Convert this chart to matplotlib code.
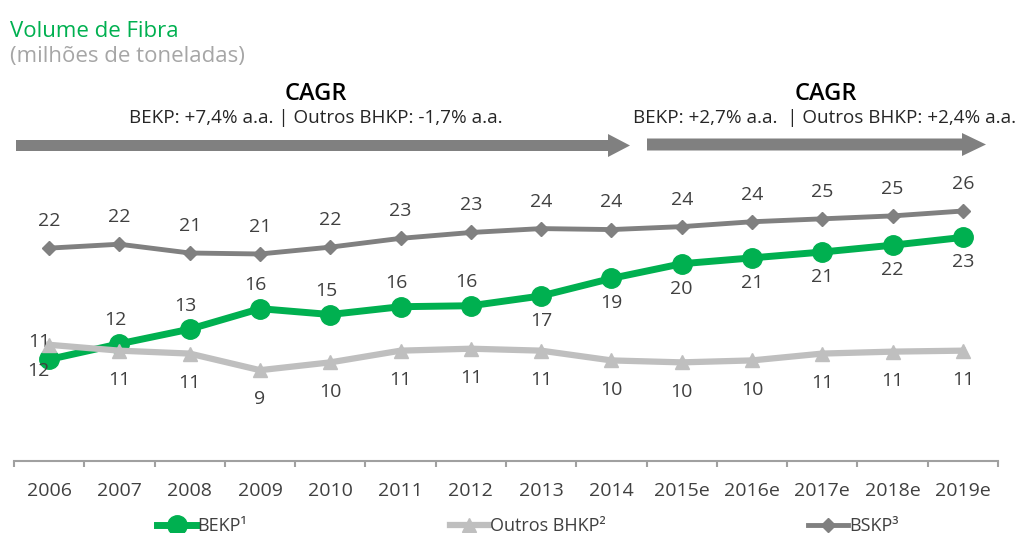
import matplotlib
matplotlib.use("Agg")
import matplotlib.pyplot as plt
from matplotlib.lines import Line2D
from matplotlib.patches import FancyArrow

plt.rcParams['font.family'] = ['Open Sans', 'DejaVu Sans']

# data
years = ['2006', '2007', '2008', '2009', '2010', '2011', '2012', '2013',
         '2014', '2015e', '2016e', '2017e', '2018e', '2019e']
bekp = [10.4, 12.0, 13.5, 15.6, 15.0, 15.8, 15.9, 16.9, 18.7, 20.2, 20.8, 21.4, 22.1, 22.9]
outros = [11.9, 11.3, 11.0, 9.3, 10.1, 11.3, 11.5, 11.3, 10.3, 10.1, 10.3, 11.0, 11.2, 11.3]
bskp = [21.8, 22.2, 21.3, 21.2, 21.9, 22.8, 23.4, 23.8, 23.7, 24.0, 24.5, 24.8, 25.1, 25.6]
# labels as printed on the chart
bekp_labels = [12, 12, 13, 16, 15, 16, 16, 17, 19, 20, 21, 21, 22, 23]
outros_labels = [11, 11, 11, 9, 10, 11, 11, 11, 10, 10, 10, 11, 11, 11]
bskp_labels = [22, 22, 21, 21, 22, 23, 23, 24, 24, 24, 24, 25, 25, 26]

GREEN = '#00B050'
LIGHT = '#BFBFBF'
DARK = '#808080'
TXT = '#404040'

W, H = 1020, 533
fig = plt.figure(figsize=(W / 100, H / 100), dpi=100)

# overlay in pixel coords for titles and arrows
ov = fig.add_axes([0, 0, 1, 1])
ov.set_xlim(0, W)
ov.set_ylim(H, 0)
ov.axis('off')

ax = fig.add_axes([14 / W, (H - 461) / H, 984 / W, 291 / H])
x = list(range(len(years)))

ax.plot(x, bekp, color=GREEN, lw=5, marker='o', ms=14, zorder=3)
ax.plot(x, outros, color=LIGHT, lw=4.5, marker='^', ms=10, zorder=4)
ax.plot(x, bskp, color=DARK, lw=3.5, marker='D', ms=7, zorder=5)

# data labels
for i in x:
    ax.annotate(str(bskp_labels[i]), (i, bskp[i]), xytext=(0, 19.5), textcoords='offset points',
                ha='center', va='center', fontsize=14, color=TXT)
    if i == 0:
        off = (-8, -8)
    elif i <= 6:
        off = (-3, 17)
    else:
        off = (0, -18)
    ax.annotate(str(bekp_labels[i]), (i, bekp[i]), xytext=off, textcoords='offset points',
                ha='center', va='center', fontsize=14, color=TXT)
    off = (-7, 2) if i == 0 else (0, -21)
    ax.annotate(str(outros_labels[i]), (i, outros[i]), xytext=off, textcoords='offset points',
                ha='center', va='center', fontsize=14, color=TXT)

ax.set_xlim(-0.5, len(years) - 0.5)
ax.set_ylim(0, 29.8)
for s in ['top', 'right', 'left']:
    ax.spines[s].set_visible(False)
ax.spines['bottom'].set_color('#A0A0A0')
ax.spines['bottom'].set_linewidth(1.5)
ax.set_yticks([])
ax.set_xticks(x)
ax.set_xticklabels(years, fontsize=14, color=TXT)
ax.set_xticks([i - 0.5 for i in range(len(years) + 1)], minor=True)
ax.tick_params(axis='x', which='major', length=0, pad=15)
ax.tick_params(axis='x', which='minor', length=4.5, width=1.5, color='#A0A0A0')
ax.patch.set_alpha(0)

# titles
ov.text(10, 37, 'Volume de Fibra', fontsize=16, color=GREEN, va='baseline', ha='left')
ov.text(10, 62, '(milhões de toneladas)', fontsize=16, color='#A6A6A6', va='baseline', ha='left')

# CAGR blocks
ov.text(316, 100, 'CAGR', fontsize=17, fontweight='semibold', color='black', ha='center', va='baseline')
ov.text(316, 123, 'BEKP: +7,4% a.a. | Outros BHKP: -1,7% a.a.', fontsize=13.6, color='#262626',
        ha='center', va='baseline')
ov.text(826, 100, 'CAGR', fontsize=17, fontweight='semibold', color='black', ha='center', va='baseline')
ov.text(825, 123, 'BEKP: +2,7% a.a.  | Outros BHKP: +2,4% a.a.', fontsize=13.6, color='#262626',
        ha='center', va='baseline')

ov.add_patch(FancyArrow(16, 145.5, 614, 0, width=11, head_width=23, head_length=22,
                        length_includes_head=True, color=DARK, lw=0))
ov.add_patch(FancyArrow(647, 144.5, 339, 0, width=12, head_width=23, head_length=24,
                        length_includes_head=True, color=DARK, lw=0))

# legend
handles = [
    Line2D([], [], color=GREEN, lw=5, marker='o', ms=14),
    Line2D([], [], color=LIGHT, lw=4.5, marker='^', ms=10),
    Line2D([], [], color=DARK, lw=3.5, marker='D', ms=7),
]
leg = fig.legend(handles, ['BEKP¹', 'Outros BHKP²', 'BSKP³'], ncol=3, frameon=False,
                 loc='center left', bbox_to_anchor=(157 / W, 1 - 526 / H), borderaxespad=0,
                 borderpad=0, handlelength=2.2, handletextpad=0.05, columnspacing=11.2,
                 fontsize=13)
for t in leg.get_texts():
    t.set_color(TXT)

fig.savefig('out.png', dpi=100)
